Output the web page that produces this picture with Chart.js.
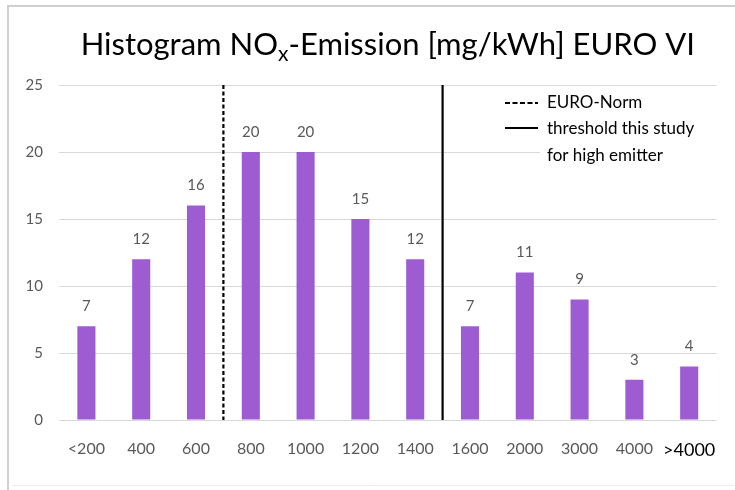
<!DOCTYPE html>
<html>
<head>
<meta charset="utf-8">
<script src="https://cdn.jsdelivr.net/npm/chart.js@4"></script>
<style>
  html, body { margin: 0; padding: 0; background: #ffffff; }
  #wrap { width: 735px; height: 490px; position: relative; }
</style>
</head>
<body>
<div id="wrap"><canvas id="chart" width="735" height="490"></canvas></div>
<script>
// NOx emission classes [mg/kWh] and number of vehicles per class
const categories = ['<200', '400', '600', '800', '1000', '1200', '1400', '1600', '2000', '3000', '4000', '>4000'];
const counts = [7, 12, 16, 20, 20, 15, 12, 7, 11, 9, 3, 4];
const yTicks = [0, 5, 10, 15, 20, 25];

// Reference lines sit between two classes (index of the class to the left)
const euroNormAfter = 2;      // between 600 and 800
const highEmitterAfter = 6;   // between 1400 and 1600

const FONT = 'Lato, "Open Sans", sans-serif';
const GRAY = '#595959';

// Frame, title, data labels, reference lines and legend
const decorations = {
  id: 'decorations',
  beforeDraw(chart) {
    const c = chart.ctx;
    c.save();
    c.fillStyle = '#ffffff';
    c.fillRect(0, 0, chart.width, chart.height);
    c.strokeStyle = '#d0d0d0';
    c.lineWidth = 2;
    c.beginPath();
    c.moveTo(8, 490);
    c.lineTo(8, 6);
    c.lineTo(735, 6);
    c.stroke();
    c.strokeStyle = '#ececec';
    c.lineWidth = 1;
    c.beginPath();
    c.moveTo(12, 485.5);
    c.lineTo(735, 485.5);
    c.stroke();
    c.restore();
  },
  afterDatasetsDraw(chart) {
    const c = chart.ctx;
    const x = chart.scales.x, y = chart.scales.y;
    const area = chart.chartArea;
    c.save();

    // value labels above the bars
    c.fillStyle = GRAY;
    c.font = '15px ' + FONT;
    c.textAlign = 'center';
    c.textBaseline = 'middle';
    chart.getDatasetMeta(0).data.forEach((bar, i) => {
      c.fillText(String(counts[i]), bar.x, bar.y - 20);
    });

    // vertical reference lines at class boundaries
    const between = i => (x.getPixelForValue(i) + x.getPixelForValue(i + 1)) / 2;
    c.strokeStyle = '#000000';
    c.lineWidth = 2.2;
    c.setLineDash([4, 2.5]);
    c.beginPath();
    c.moveTo(between(euroNormAfter), y.getPixelForValue(25));
    c.lineTo(between(euroNormAfter), y.getPixelForValue(0));
    c.stroke();
    c.setLineDash([]);
    c.beginPath();
    c.moveTo(between(highEmitterAfter), y.getPixelForValue(25));
    c.lineTo(between(highEmitterAfter), y.getPixelForValue(0));
    c.stroke();

    // legend
    c.fillStyle = '#ffffff';
    c.fillRect(540, 90, 182, 76);
    c.strokeStyle = '#000000';
    c.lineWidth = 2.2;
    c.setLineDash([5, 2.5]);
    c.beginPath(); c.moveTo(505, 103); c.lineTo(538, 103); c.stroke();
    c.setLineDash([]);
    c.beginPath(); c.moveTo(505, 128); c.lineTo(538, 128); c.stroke();
    c.fillStyle = '#000000';
    c.font = '17px ' + FONT;
    c.textAlign = 'left';
    c.fillText('EURO-Norm', 547, 103);
    c.fillText('threshold this study', 547, 129);
    c.fillText('for high emitter', 547, 156);

    // title with subscript x
    const parts = [['Histogram NO', 31, 0], ['x', 21, 6], ['-Emission [mg/kWh] EURO VI', 31, 0]];
    let total = 0;
    parts.forEach(p => { c.font = p[1] + 'px ' + FONT; total += c.measureText(p[0]).width; });
    let tx = (area.left + area.right) / 2 - total / 2;
    c.fillStyle = '#000000';
    c.textBaseline = 'alphabetic';
    parts.forEach(p => {
      c.font = p[1] + 'px ' + FONT;
      c.fillText(p[0], tx, 55 + p[2]);
      tx += c.measureText(p[0]).width;
    });
    c.restore();
  }
};

new Chart(document.getElementById('chart'), {
  type: 'bar',
  data: {
    labels: categories,
    datasets: [{
      data: counts,
      backgroundColor: '#9d5cd2',
      borderWidth: 0,
      barPercentage: 0.66,
      categoryPercentage: 0.5
    }]
  },
  options: {
    responsive: false,
    animation: false,
    devicePixelRatio: 1,
    layout: { padding: { left: 8, right: 17, top: 85, bottom: 0 } },
    plugins: { legend: { display: false }, tooltip: { enabled: false }, title: { display: false } },
    scales: {
      x: {
        grid: { display: false, drawTicks: false },
        border: { display: false },
        afterFit(scale) { scale.height = 70; },
        ticks: {
          padding: 19,
          autoSkip: false,
          maxRotation: 0,
          minRotation: 0,
          color: ctx => ctx.index === categories.length - 1 ? '#000000' : GRAY,
          font: ctx => ({ family: FONT, size: ctx.index === categories.length - 1 ? 18 : 16 })
        }
      },
      y: {
        min: 0,
        max: 25,
        afterFit(scale) { scale.width = 51; },
        afterBuildTicks(scale) { scale.ticks = yTicks.map(v => ({ value: v })); },
        grid: { color: '#d9d9d9', lineWidth: 1, drawTicks: false },
        border: { display: false },
        ticks: { padding: 16, color: GRAY, font: { family: FONT, size: 15 } }
      }
    }
  },
  plugins: [decorations]
});
</script>
</body>
</html>
